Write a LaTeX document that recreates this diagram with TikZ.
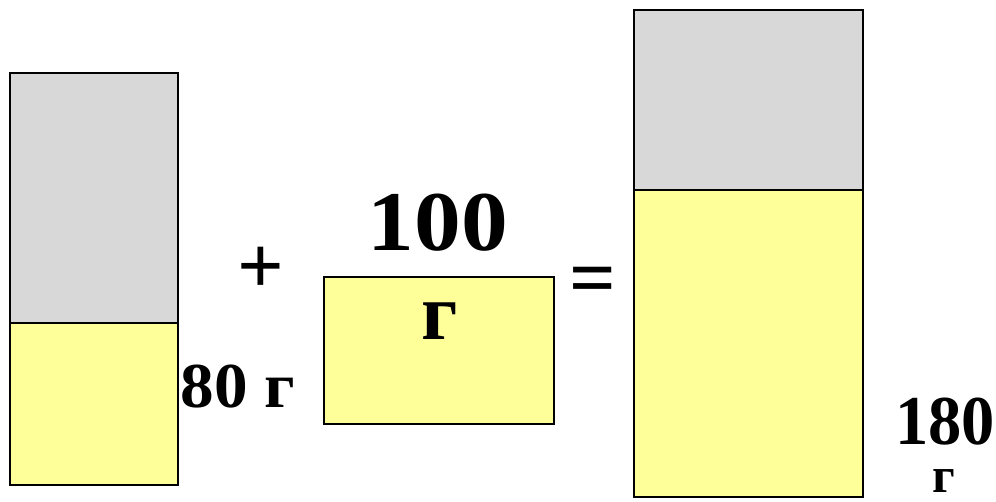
\documentclass[tikz,border=0pt]{standalone}
\usepackage{fontspec}
\setmainfont{Liberation Serif}
\usetikzlibrary{positioning}

\definecolor{massgray}{HTML}{D8D8D8}
\definecolor{massyellow}{HTML}{FFFF99}

\begin{document}
\begin{tikzpicture}[x=1pt, y=-1pt, line width=2pt,
      part/.style={draw=black, line join=miter},
      num/.style={inner sep=0pt, anchor=base, font=\bfseries\fontsize{#1}{#1}\selectfont},
      num/.default=87]

    % ---- Frame ----
    \useasboundingbox (0,0) rectangle (996,502);

    % ---- Left beaker: 80 g ----
    \fill[massgray]   (10,73)  rectangle (178,323);
    \fill[massyellow] (10,323) rectangle (178,485);
    \draw[part] (10,323) -- (178,323);
    \draw[part] (10,73) rectangle (178,485);

    % ---- Added block: 100 g ----
    \fill[massyellow] (324,277) rectangle (554,424);
    \draw[part] (324,277) rectangle (554,424);

    % ---- Right beaker: 180 g ----
    \fill[massgray]   (634,10)  rectangle (863,190);
    \fill[massyellow] (634,190) rectangle (863,497);
    \draw[part] (634,190) -- (863,190);
    \draw[part] (634,10) rectangle (863,497);

    % ---- Labels ----
    \node[num=64, xscale=1.05] (m80)   at (238,408) {80 г};
    \node[num=82]  (plus)  at (261,294) {+};
    \node[num=85, xscale=1.1]  (m100)  at (438,251) {100};
    \node[num=80]  (g100)  at (440,340) {г};
    \node[num=82]  (eq)    at (593,306) {=};
    \node[num=70, xscale=0.95] (m180)  at (945,444) {180};
    \node[num=50]  (g180)  at (944,492) {г};

\end{tikzpicture}
\end{document}
